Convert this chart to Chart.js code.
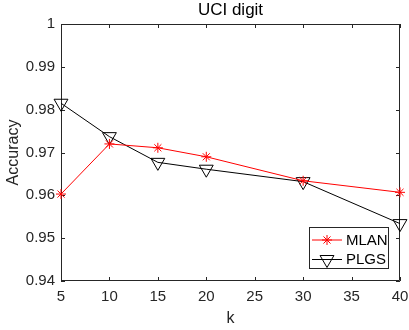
<!DOCTYPE html>
<html>
<head>
<meta charset="utf-8">
<script src="https://cdn.jsdelivr.net/npm/chart.js@4/dist/chart.umd.min.js"></script>
<style>
  html, body { margin: 0; padding: 0; background: #fff; }
  #wrap { width: 409px; height: 330px; }
</style>
</head>
<body>
<div id="wrap"><canvas id="chart" width="409" height="330"></canvas></div>
<script>
// k values and accuracy of the two methods
const kValues   = [5, 10, 15, 20, 30, 40];
const mlanAcc   = [0.9603, 0.9720, 0.9711, 0.9690, 0.9634, 0.9607];
const plgsAcc   = [0.9815, 0.9737, 0.9677, 0.9661, 0.9632, 0.9534];
const xTicks    = [5, 10, 15, 20, 25, 30, 35, 40];
const yTicks    = [0.94, 0.95, 0.96, 0.97, 0.98, 0.99, 1];

const AXIS = '#262626';
const FONT = '"Liberation Sans", Arial, Helvetica, sans-serif';

// ── box around the axes with inward tick marks ─────────────
const boxAxes = {
  id: 'boxAxes',
  beforeDatasetsDraw(chart) {
    const { ctx, chartArea: a, scales: { x, y } } = chart;
    const len = 4;
    ctx.save();
    ctx.strokeStyle = AXIS;
    ctx.lineWidth = 1;
    ctx.beginPath();
    ctx.rect(a.left + 0.5, a.top + 0.5, a.right - a.left - 1, a.bottom - a.top - 1);
    xTicks.forEach(v => {
      const px = Math.round(x.getPixelForValue(v)) + 0.5;
      ctx.moveTo(px, a.bottom); ctx.lineTo(px, a.bottom - len);
      ctx.moveTo(px, a.top);    ctx.lineTo(px, a.top + len);
    });
    yTicks.forEach(v => {
      const py = Math.round(y.getPixelForValue(v)) + 0.5;
      ctx.moveTo(a.left, py);  ctx.lineTo(a.left + len, py);
      ctx.moveTo(a.right, py); ctx.lineTo(a.right - len, py);
    });
    ctx.stroke();
    ctx.restore();
  }
};

// ── legend box in the lower right corner of the axes ───────
function drawMarker(ctx, style, cx, cy, r) {
  ctx.beginPath();
  if (style === 'star') {
    for (let i = 0; i < 4; i++) {
      const t = i * Math.PI / 4;
      ctx.moveTo(cx - Math.cos(t) * r, cy - Math.sin(t) * r);
      ctx.lineTo(cx + Math.cos(t) * r, cy + Math.sin(t) * r);
    }
  } else {
    ctx.moveTo(cx - r * 0.866, cy - r / 2);
    ctx.lineTo(cx + r * 0.866, cy - r / 2);
    ctx.lineTo(cx, cy + r);
    ctx.closePath();
  }
  ctx.stroke();
}

const cornerLegend = {
  id: 'cornerLegend',
  afterDraw(chart) {
    const { ctx, chartArea: a } = chart;
    const w = 80, h = 42;
    const bx = a.right - 11 - w, by = a.bottom - 12 - h;
    ctx.save();
    ctx.fillStyle = '#fff';
    ctx.fillRect(bx, by, w, h);
    ctx.strokeStyle = AXIS;
    ctx.lineWidth = 1;
    ctx.strokeRect(bx + 0.5, by + 0.5, w - 1, h - 1);
    ctx.font = '15px ' + FONT;
    ctx.textBaseline = 'middle';
    chart.data.datasets.forEach((ds, i) => {
      const cy = by + 13 + i * 19.5;
      ctx.strokeStyle = ds.borderColor;
      ctx.beginPath();
      ctx.moveTo(bx + 3, cy); ctx.lineTo(bx + 33, cy);
      ctx.stroke();
      drawMarker(ctx, ds.pointStyle, bx + 18, cy, ds.pointRadius);
      ctx.fillStyle = '#000';
      ctx.fillText(ds.label, bx + 37, cy + 0.5);
    });
    ctx.restore();
  }
};

new Chart(document.getElementById('chart'), {
  type: 'line',
  data: {
    datasets: [
      {
        label: 'MLAN',
        data: kValues.map((k, i) => ({ x: k, y: mlanAcc[i] })),
        borderColor: '#ff0000',
        backgroundColor: 'rgba(0,0,0,0)',
        borderWidth: 1,
        pointStyle: 'star',
        pointRadius: 5,
        pointBorderWidth: 1,
        clip: false,
      },
      {
        label: 'PLGS',
        data: kValues.map((k, i) => ({ x: k, y: plgsAcc[i] })),
        borderColor: '#000000',
        backgroundColor: 'rgba(0,0,0,0)',
        borderWidth: 1,
        pointStyle: 'triangle',
        pointRotation: 180,
        pointRadius: 8,
        pointBorderWidth: 1,
        clip: false,
      },
    ],
  },
  options: {
    responsive: false,
    animation: false,
    events: [],
    layout: { padding: { left: 0, right: 8, top: 0, bottom: 0 } },
    plugins: {
      legend: { display: false },
      tooltip: { enabled: false },
      title: {
        display: true,
        fullSize: false,
        text: 'UCI digit',
        color: '#000',
        font: { family: FONT, size: 17, weight: 'normal' },
        padding: { top: 0.5, bottom: 3.1 },
      },
    },
    scales: {
      x: {
        type: 'linear',
        min: 5,
        max: 40,
        afterBuildTicks: s => { s.ticks = xTicks.map(v => ({ value: v })); },
        afterFit: s => { s.height = 49; s.paddingLeft = 0; s.paddingRight = 0; },
        grid: { display: false, drawTicks: false },
        border: { display: false },
        ticks: { color: AXIS, padding: 7, maxRotation: 0, font: { family: FONT, size: 15 } },
        title: {
          display: true, text: 'k', color: AXIS,
          font: { family: FONT, size: 16 },
          padding: { top: 0, bottom: 2 },
        },
      },
      y: {
        type: 'linear',
        min: 0.94,
        max: 1,
        afterBuildTicks: s => { s.ticks = yTicks.map(v => ({ value: v })); },
        afterFit: s => { s.width = 61; s.paddingTop = 0; s.paddingBottom = 0; },
        grid: { display: false, drawTicks: false },
        border: { display: false },
        ticks: {
          color: AXIS, padding: 6,
          font: { family: FONT, size: 15 },
          callback: v => String(+v.toFixed(2)),
        },
        title: {
          display: true, text: 'Accuracy', color: AXIS,
          font: { family: FONT, size: 16 },
          padding: { top: 3.5, bottom: 0 },
        },
      },
    },
  },
  plugins: [boxAxes, cornerLegend],
});
</script>
</body>
</html>
